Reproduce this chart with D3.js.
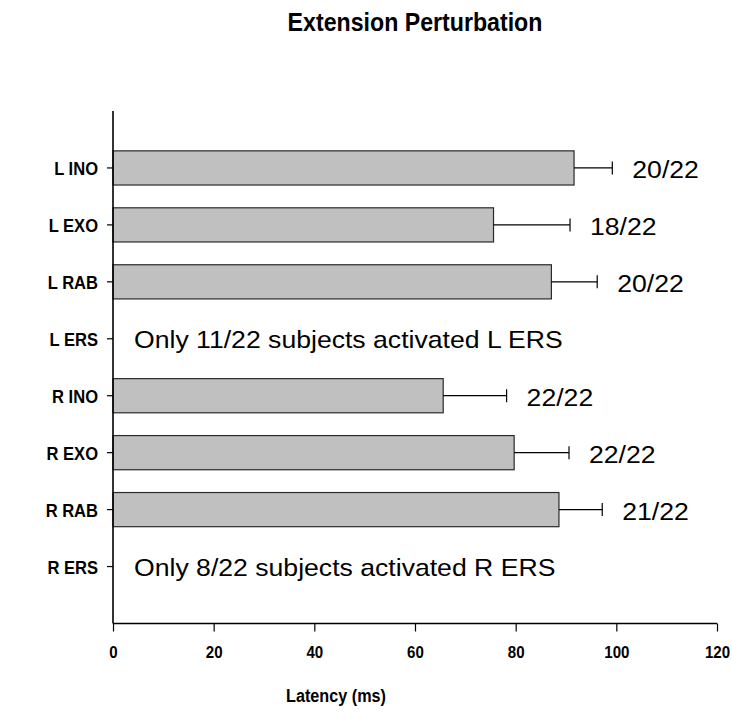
<!DOCTYPE html>
<html>
<head>
<meta charset="utf-8">
<script src="https://cdn.jsdelivr.net/npm/d3@7"></script>
<style>
  html, body { margin: 0; padding: 0; background: #fff; }
  svg { display: block; }
  text { font-family: "Liberation Sans", Arial, Helvetica, sans-serif; fill: #000; }
</style>
</head>
<body>
<div id="chart"></div>
<script>
// Muscle onset latency after an extension perturbation (mean ± SD, ms)
const muscles = ["L INO", "L EXO", "L RAB", "L ERS", "R INO", "R EXO", "R RAB", "R ERS"];
const latency = [91.6, 75.6, 87.1, null, 65.6, 79.7, 88.6, null];
const latencySD = [7.6, 15.2, 9.1, null, 12.6, 10.9, 8.6, null];
const activated = ["20/22", "18/22", "20/22", null, "22/22", "22/22", "21/22", null];
const notes = [
  { muscle: "L ERS", text: "Only 11/22 subjects activated L ERS" },
  { muscle: "R ERS", text: "Only 8/22 subjects activated R ERS" }
];
const xTicks = [0, 20, 40, 60, 80, 100, 120];

const W = 732, H = 718;
const plotLeft = 113, plotRight = 717, plotTop = 111, plotBottom = 623.5;

const svg = d3.select("#chart").append("svg")
  .attr("width", W).attr("height", H);

const x = d3.scaleLinear().domain([0, 120]).range([plotLeft, plotRight]);
const y = d3.scaleBand().domain(muscles).range([plotTop, plotBottom])
  .paddingInner(0.4).paddingOuter(0.7);

const rows = muscles.map((m, i) => ({
  muscle: m, value: latency[i], sd: latencySD[i], n: activated[i]
})).filter(d => d.value != null);

// Bars
svg.append("g").selectAll("rect").data(rows).join("rect")
  .attr("x", x(0))
  .attr("y", d => y(d.muscle))
  .attr("width", d => x(d.value) - x(0))
  .attr("height", y.bandwidth())
  .attr("fill", "#c0c0c0")
  .attr("stroke", "#2a2a2a")
  .attr("stroke-width", 1.2);

// Error bars (one-sided, +SD)
const eb = svg.append("g").attr("stroke", "#000").attr("stroke-width", 1.2);
rows.forEach(d => {
  const cy = y(d.muscle) + y.bandwidth() / 2;
  eb.append("line")
    .attr("x1", x(d.value)).attr("x2", x(d.value + d.sd))
    .attr("y1", cy).attr("y2", cy);
  eb.append("line")
    .attr("x1", x(d.value + d.sd)).attr("x2", x(d.value + d.sd))
    .attr("y1", cy - 6.5).attr("y2", cy + 6.5);
});

// Subject counts beside each bar
svg.append("g").selectAll("text").data(rows).join("text")
  .attr("transform", d =>
    `translate(${x(d.value + d.sd) + 20},${y(d.muscle) + y.bandwidth() / 2 + 10}) scale(1.1,1)`)
  .attr("font-size", 24.2)
  .text(d => d.n);

// Notes for muscles without enough responders
svg.append("g").selectAll("text").data(notes).join("text")
  .attr("transform", d =>
    `translate(${x(0) + 21},${y(d.muscle) + y.bandwidth() / 2 + 9}) scale(1.1,1)`)
  .attr("font-size", 24.2)
  .text(d => d.text);

// X axis
const gx = svg.append("g")
  .attr("transform", `translate(0,${plotBottom})`)
  .call(d3.axisBottom(x).tickValues(xTicks).tickSize(8).tickSizeOuter(0));
gx.select(".domain").attr("stroke", "#000").attr("stroke-width", 1.6)
  .attr("d", `M${plotLeft},0H${plotRight}`);
gx.selectAll(".tick line").attr("stroke", "#000").attr("stroke-width", 1.2);
gx.selectAll(".tick text")
  .attr("y", 35).attr("dy", 0)
  .attr("transform", "scale(0.92,1)")
  .attr("font-size", 16.4).attr("font-weight", "bold")
  .attr("font-family", "'Liberation Sans', Arial, sans-serif");

// Y axis
const gy = svg.append("g")
  .attr("transform", `translate(${plotLeft},0)`)
  .call(d3.axisLeft(y).tickSize(6).tickSizeOuter(0));
gy.select(".domain").attr("stroke", "#000").attr("stroke-width", 1.6)
  .attr("d", `M0,${plotTop}V${plotBottom}`);
gy.selectAll(".tick line").attr("stroke", "#000").attr("stroke-width", 1.2);
gy.selectAll(".tick text")
  .attr("x", 0).attr("dy", "0.39em")
  .attr("transform", "translate(-15,0) scale(0.93,1)")
  .attr("font-size", 17.8).attr("font-weight", "bold")
  .attr("font-family", "'Liberation Sans', Arial, sans-serif");

// Title
svg.append("text")
  .attr("transform", `translate(${(plotLeft + plotRight) / 2},31) scale(0.905,1)`)
  .attr("text-anchor", "middle")
  .attr("font-size", 25.6).attr("font-weight", "bold")
  .text("Extension Perturbation");

// Axis title
svg.append("text")
  .attr("transform", "translate(336,702) scale(0.92,1)")
  .attr("text-anchor", "middle")
  .attr("font-size", 17.6).attr("font-weight", "bold")
  .text("Latency (ms)");
</script>
</body>
</html>
